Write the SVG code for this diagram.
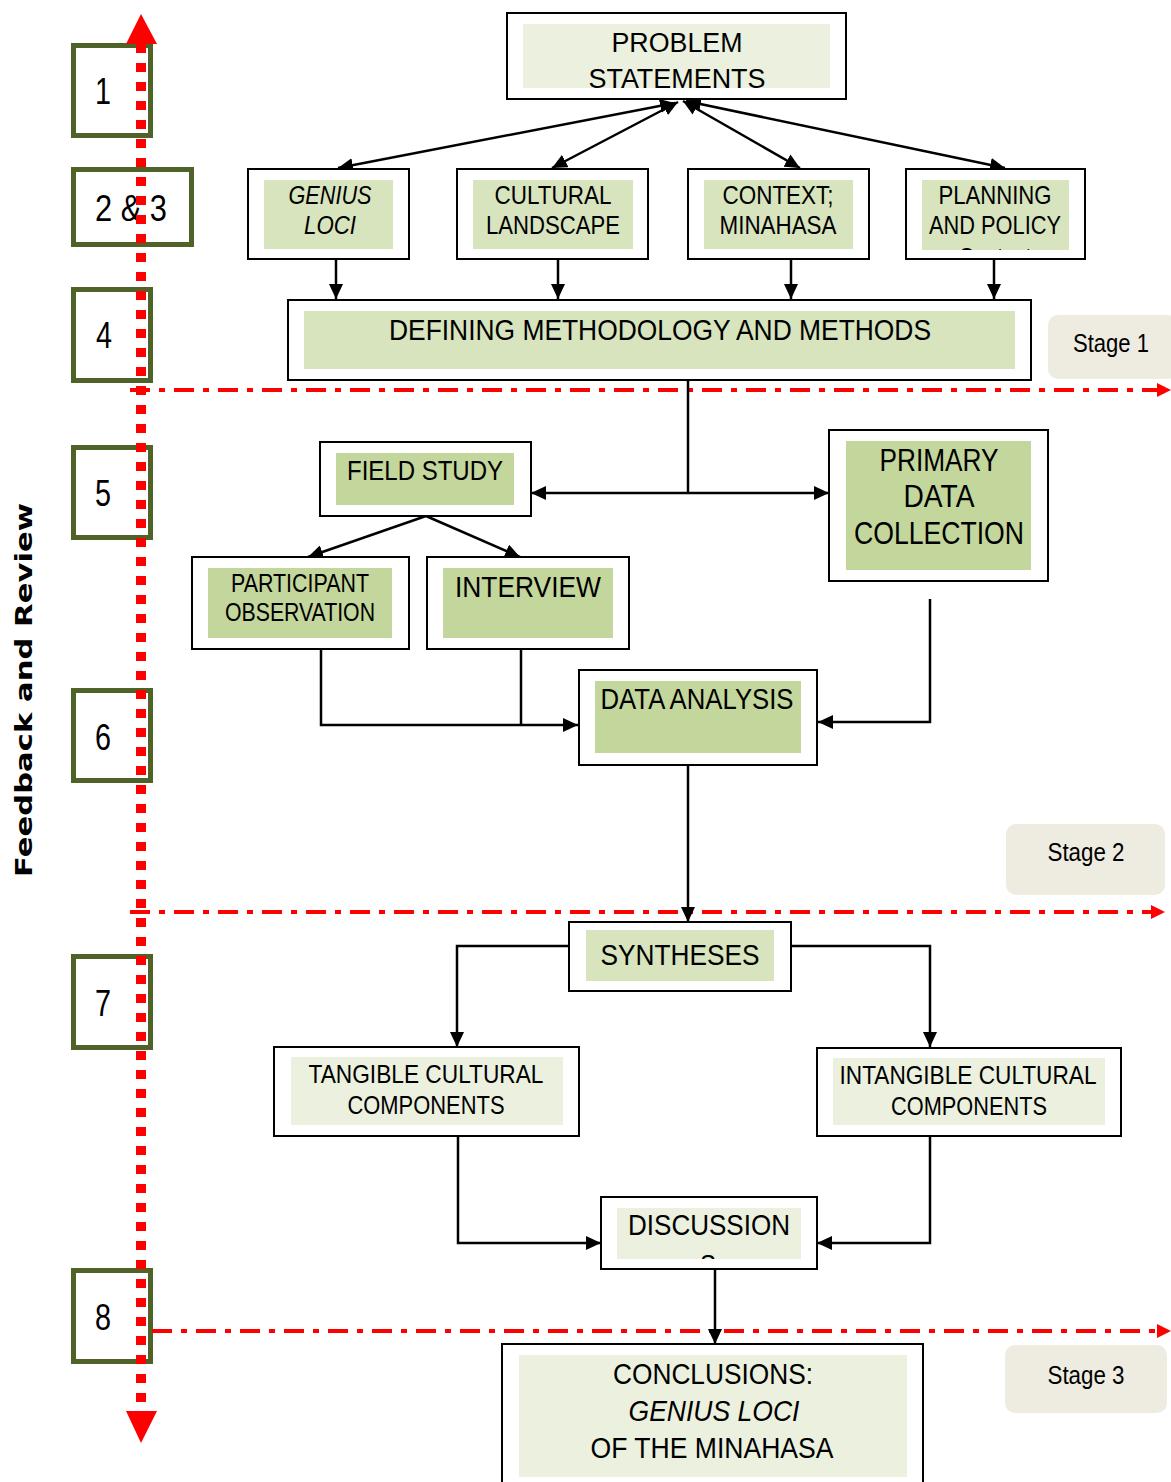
<svg xmlns="http://www.w3.org/2000/svg" width="1171" height="1482" viewBox="0 0 1171 1482">
  <defs>
    <style>
      .frame { fill: #ffffff; stroke: #000000; stroke-width: 2; }
      .pale { fill: #ebf1de; }
      .mid { fill: #d7e4bd; }
      .deep { fill: #c3d69b; }
      .step { fill: #ffffff; stroke: #4f6228; stroke-width: 5; }
      .stage { fill: #eeece1; }
      .lbl { font-family: "Liberation Sans Narrow", "Arial Narrow", "Liberation Sans", Arial, sans-serif; fill: #000000; text-anchor: middle; }
      .num { font-family: "Liberation Sans Narrow", "Arial Narrow", "Liberation Sans", Arial, sans-serif; fill: #000000; text-anchor: middle; font-size: 36px; }
      .it { font-style: italic; }
      .link { fill: none; stroke: #000000; stroke-width: 2.5; }
      .feed { fill: none; stroke: #ff0000; stroke-width: 10; stroke-dasharray: 9 10; }
      .stageline { fill: none; stroke: #ff0000; stroke-width: 4; stroke-dasharray: 20 9 6 9; }
    </style>
    <marker id="head" markerUnits="userSpaceOnUse" markerWidth="16" markerHeight="14" refX="15" refY="7" orient="auto-start-reverse">
      <path d="M0,0 L15,7 L0,14 Z" fill="#000000"/>
    </marker>
    <clipPath id="clipPlanning"><rect x="922" y="180" width="147" height="70"/></clipPath>
    <clipPath id="clipDiscussion"><rect x="617" y="1208" width="184" height="51"/></clipPath>
  </defs>

  <!-- step number boxes -->
  <g id="step-1"><rect class="step" x="73.5" y="45.5" width="77" height="90"/><text class="num" x="103" y="104" textLength="16" lengthAdjust="spacingAndGlyphs">1</text></g>
  <g id="step-2-3"><rect class="step" x="73.5" y="169.5" width="118" height="75"/><text class="num" x="131" y="221" textLength="72" lengthAdjust="spacingAndGlyphs">2 &amp; 3</text></g>
  <g id="step-4"><rect class="step" x="73.5" y="289.5" width="77" height="91"/><text class="num" x="104" y="348" textLength="16" lengthAdjust="spacingAndGlyphs">4</text></g>
  <g id="step-5"><rect class="step" x="73.5" y="447.5" width="77" height="90"/><text class="num" x="103" y="506" textLength="16" lengthAdjust="spacingAndGlyphs">5</text></g>
  <g id="step-6"><rect class="step" x="73.5" y="690.5" width="77" height="90"/><text class="num" x="103" y="750" textLength="16" lengthAdjust="spacingAndGlyphs">6</text></g>
  <g id="step-7"><rect class="step" x="73.5" y="956.5" width="77" height="91"/><text class="num" x="103" y="1016" textLength="16" lengthAdjust="spacingAndGlyphs">7</text></g>
  <g id="step-8"><rect class="step" x="73.5" y="1270.5" width="77" height="91"/><text class="num" x="103" y="1330" textLength="16" lengthAdjust="spacingAndGlyphs">8</text></g>

  <!-- feedback axis -->
  <g id="feedback">
    <line class="feed" x1="141" y1="44" x2="141" y2="1411"/>
    <polygon points="141,14 126,44 157,44" fill="#ff0000"/>
    <polygon points="141,1443 126,1411 157,1411" fill="#ff0000"/>
    <text x="32" y="690" transform="rotate(-90 32 690)" font-family="DejaVu Sans, Verdana, sans-serif" font-weight="bold" font-size="23" text-anchor="middle" textLength="374" lengthAdjust="spacingAndGlyphs">Feedback and Review</text>
  </g>

  <!-- stage boundaries -->
  <g id="stage-lines">
    <line class="stageline" x1="130" y1="390" x2="1160" y2="390"/>
    <polygon points="1157,383 1171,390 1157,397" fill="#ff0000"/>
    <line class="stageline" x1="130" y1="912" x2="1154" y2="912"/>
    <polygon points="1151,905 1165,912 1151,919" fill="#ff0000"/>
    <line class="stageline" x1="152" y1="1331" x2="1160" y2="1331"/>
    <polygon points="1157,1324 1171,1331 1157,1338" fill="#ff0000"/>
  </g>

  <g id="stage-1"><rect class="stage" x="1048" y="315" width="130" height="64" rx="10"/><text class="lbl" x="1111" y="352" font-size="25" textLength="76" lengthAdjust="spacingAndGlyphs">Stage 1</text></g>
  <g id="stage-2"><rect class="stage" x="1006" y="824" width="159" height="71" rx="10"/><text class="lbl" x="1086" y="861" font-size="25" textLength="77" lengthAdjust="spacingAndGlyphs">Stage 2</text></g>
  <g id="stage-3"><rect class="stage" x="1005" y="1345" width="162" height="68" rx="10"/><text class="lbl" x="1086" y="1384" font-size="25" textLength="77" lengthAdjust="spacingAndGlyphs">Stage 3</text></g>

  <!-- connectors -->
  <g id="connectors">
    <line class="link" x1="675" y1="103" x2="338" y2="168" marker-start="url(#head)" marker-end="url(#head)"/>
    <line class="link" x1="678" y1="102" x2="552" y2="168" marker-start="url(#head)" marker-end="url(#head)"/>
    <line class="link" x1="683" y1="101" x2="800" y2="168" marker-start="url(#head)" marker-end="url(#head)"/>
    <line class="link" x1="686" y1="101" x2="1005" y2="168" marker-start="url(#head)" marker-end="url(#head)"/>
    <line class="link" x1="336" y1="260" x2="336" y2="299" marker-end="url(#head)"/>
    <line class="link" x1="558" y1="260" x2="558" y2="299" marker-end="url(#head)"/>
    <line class="link" x1="791" y1="260" x2="791" y2="299" marker-end="url(#head)"/>
    <line class="link" x1="994" y1="260" x2="994" y2="299" marker-end="url(#head)"/>
    <line class="link" x1="688" y1="380" x2="688" y2="493"/>
    <line class="link" x1="531" y1="493" x2="829" y2="493" marker-start="url(#head)" marker-end="url(#head)"/>
    <line class="link" x1="426" y1="516" x2="308" y2="557" marker-end="url(#head)"/>
    <line class="link" x1="426" y1="516" x2="520" y2="557" marker-end="url(#head)"/>
    <polyline class="link" points="321,649 321,725 578,725" marker-end="url(#head)"/>
    <line class="link" x1="521" y1="637" x2="521" y2="725"/>
    <polyline class="link" points="930,599 930,722 818,722" marker-end="url(#head)"/>
    <line class="link" x1="688" y1="765" x2="688" y2="922" marker-end="url(#head)"/>
    <polyline class="link" points="569,946 457,946 457,1047" marker-end="url(#head)"/>
    <polyline class="link" points="791,946 930,946 930,1047" marker-end="url(#head)"/>
    <polyline class="link" points="458,1136 458,1243 601,1243" marker-end="url(#head)"/>
    <polyline class="link" points="930,1136 930,1243 817,1243" marker-end="url(#head)"/>
    <line class="link" x1="715" y1="1269" x2="715" y2="1344" marker-end="url(#head)"/>
  </g>

  <!-- process nodes -->
  <g id="problem-statements">
    <rect class="frame" x="507" y="13" width="339" height="86"/>
    <rect class="pale" x="523" y="24" width="307" height="64"/>
    <text class="lbl" x="677" y="52" font-size="27" textLength="131" lengthAdjust="spacingAndGlyphs">PROBLEM</text>
    <text class="lbl" x="677" y="88" font-size="27" textLength="177" lengthAdjust="spacingAndGlyphs">STATEMENTS</text>
  </g>

  <g id="genius-loci">
    <rect class="frame" x="248" y="169" width="161" height="90"/>
    <rect class="mid" x="264" y="180" width="129" height="69"/>
    <text class="lbl it" x="330" y="204" font-size="26" textLength="83" lengthAdjust="spacingAndGlyphs">GENIUS</text>
    <text class="lbl it" x="330" y="234" font-size="26" textLength="52" lengthAdjust="spacingAndGlyphs">LOCI</text>
  </g>

  <g id="cultural-landscape">
    <rect class="frame" x="457" y="169" width="191" height="90"/>
    <rect class="mid" x="473" y="180" width="160" height="69"/>
    <text class="lbl" x="553" y="204" font-size="26" textLength="117" lengthAdjust="spacingAndGlyphs">CULTURAL</text>
    <text class="lbl" x="553" y="234" font-size="26" textLength="134" lengthAdjust="spacingAndGlyphs">LANDSCAPE</text>
  </g>

  <g id="context-minahasa">
    <rect class="frame" x="688" y="169" width="181" height="90"/>
    <rect class="mid" x="704" y="180" width="149" height="69"/>
    <text class="lbl" x="778" y="204" font-size="26" textLength="111" lengthAdjust="spacingAndGlyphs">CONTEXT;</text>
    <text class="lbl" x="778" y="234" font-size="26" textLength="117" lengthAdjust="spacingAndGlyphs">MINAHASA</text>
  </g>

  <g id="planning-policy">
    <rect class="frame" x="906" y="169" width="179" height="90"/>
    <rect class="mid" x="922" y="180" width="147" height="70"/>
    <text class="lbl" x="995" y="204" font-size="26" textLength="113" lengthAdjust="spacingAndGlyphs">PLANNING</text>
    <text class="lbl" x="995" y="234" font-size="26" textLength="132" lengthAdjust="spacingAndGlyphs">AND POLICY</text>
    <text class="lbl" x="995" y="266" font-size="26" textLength="73" lengthAdjust="spacingAndGlyphs" clip-path="url(#clipPlanning)">Context</text>
  </g>

  <g id="defining-methodology">
    <rect class="frame" x="288" y="300" width="743" height="80"/>
    <rect class="mid" x="304" y="311" width="711" height="58"/>
    <text class="lbl" x="660" y="340" font-size="29" textLength="542" lengthAdjust="spacingAndGlyphs">DEFINING METHODOLOGY AND METHODS</text>
  </g>

  <g id="field-study">
    <rect class="frame" x="320" y="442" width="211" height="74"/>
    <rect class="deep" x="336" y="453" width="178" height="52"/>
    <text class="lbl" x="425" y="480" font-size="28" textLength="156" lengthAdjust="spacingAndGlyphs">FIELD STUDY</text>
  </g>

  <g id="primary-data">
    <rect class="frame" x="829" y="430" width="219" height="151"/>
    <rect class="deep" x="846" y="441" width="185" height="129"/>
    <text class="lbl" x="939" y="471" font-size="31" textLength="119" lengthAdjust="spacingAndGlyphs">PRIMARY</text>
    <text class="lbl" x="939" y="507" font-size="31" textLength="71" lengthAdjust="spacingAndGlyphs">DATA</text>
    <text class="lbl" x="939" y="544" font-size="31" textLength="170" lengthAdjust="spacingAndGlyphs">COLLECTION</text>
  </g>

  <g id="participant-observation">
    <rect class="frame" x="192" y="557" width="217" height="92"/>
    <rect class="deep" x="208" y="568" width="184" height="70"/>
    <text class="lbl" x="300" y="592" font-size="25" textLength="138" lengthAdjust="spacingAndGlyphs">PARTICIPANT</text>
    <text class="lbl" x="300" y="621" font-size="25" textLength="150" lengthAdjust="spacingAndGlyphs">OBSERVATION</text>
  </g>

  <g id="interview">
    <rect class="frame" x="427" y="557" width="202" height="92"/>
    <rect class="deep" x="443" y="568" width="170" height="70"/>
    <text class="lbl" x="528" y="597" font-size="30" textLength="146" lengthAdjust="spacingAndGlyphs">INTERVIEW</text>
  </g>

  <g id="data-analysis">
    <rect class="frame" x="579" y="670" width="238" height="95"/>
    <rect class="deep" x="595" y="681" width="206" height="72"/>
    <text class="lbl" x="697" y="709" font-size="29" textLength="193" lengthAdjust="spacingAndGlyphs">DATA ANALYSIS</text>
  </g>

  <g id="syntheses">
    <rect class="frame" x="569" y="922" width="222" height="69"/>
    <rect class="mid" x="586" y="930" width="188" height="51"/>
    <text class="lbl" x="680" y="965" font-size="30" textLength="159" lengthAdjust="spacingAndGlyphs">SYNTHESES</text>
  </g>

  <g id="tangible-components">
    <rect class="frame" x="274" y="1047" width="305" height="89"/>
    <rect class="pale" x="291" y="1057" width="272" height="68"/>
    <text class="lbl" x="426" y="1083" font-size="25" textLength="235" lengthAdjust="spacingAndGlyphs">TANGIBLE CULTURAL</text>
    <text class="lbl" x="426" y="1114" font-size="25" textLength="157" lengthAdjust="spacingAndGlyphs">COMPONENTS</text>
  </g>

  <g id="intangible-components">
    <rect class="frame" x="817" y="1048" width="304" height="88"/>
    <rect class="pale" x="833" y="1058" width="272" height="67"/>
    <text class="lbl" x="968" y="1084" font-size="25" textLength="257" lengthAdjust="spacingAndGlyphs">INTANGIBLE CULTURAL</text>
    <text class="lbl" x="969" y="1115" font-size="25" textLength="156" lengthAdjust="spacingAndGlyphs">COMPONENTS</text>
  </g>

  <g id="discussions">
    <rect class="frame" x="601" y="1197" width="216" height="72"/>
    <rect class="pale" x="617" y="1208" width="184" height="51"/>
    <text class="lbl" x="709" y="1235" font-size="29" textLength="162" lengthAdjust="spacingAndGlyphs">DISCUSSION</text>
    <text class="lbl" x="708" y="1275" font-size="29" textLength="16" lengthAdjust="spacingAndGlyphs" clip-path="url(#clipDiscussion)">S</text>
  </g>

  <g id="conclusions">
    <rect class="frame" x="502" y="1344" width="421" height="150"/>
    <rect class="pale" x="519" y="1355" width="388" height="122"/>
    <text class="lbl" x="713" y="1384" font-size="29" textLength="200" lengthAdjust="spacingAndGlyphs">CONCLUSIONS:</text>
    <text class="lbl it" x="714" y="1421" font-size="29" textLength="171" lengthAdjust="spacingAndGlyphs">GENIUS LOCI</text>
    <text class="lbl" x="712" y="1458" font-size="29" textLength="243" lengthAdjust="spacingAndGlyphs">OF THE MINAHASA</text>
  </g>
</svg>
